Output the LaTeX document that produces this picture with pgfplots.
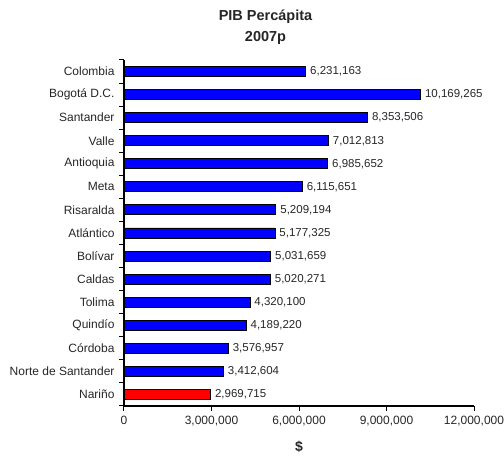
\documentclass[border=0pt]{standalone}
\usepackage{pgfplots}
\pgfplotsset{compat=1.18}
\usepackage{pgfplotstable}
\usepackage{fontspec}
\setmainfont{Liberation Sans}

\pgfplotstableread[col sep=comma]{
y,val,lab
14,6231163,{6,231,163}
13,10169265,{10,169,265}
12,8353506,{8,353,506}
11,7012813,{7,012,813}
10,6985652,{6,985,652}
9,6115651,{6,115,651}
8,5209194,{5,209,194}
7,5177325,{5,177,325}
6,5031659,{5,031,659}
5,5020271,{5,020,271}
4,4320100,{4,320,100}
3,4189220,{4,189,220}
2,3576957,{3,576,957}
1,3412604,{3,412,604}
}\bluedata

\pgfplotstableread[col sep=comma]{
y,val,lab
0,2969715,{2,969,715}
}\reddata

\begin{document}
\begin{tikzpicture}[x=1pt,y=1pt]
\useasboundingbox (0,0) rectangle (504,457);
\begin{axis}[
  at={(124pt,51pt)}, anchor=south west,
  scale only axis, width=350pt, height=346pt,
  xmin=0, xmax=12000000, ymin=-0.5, ymax=14.5,
  axis x line*=bottom, axis y line*=left,
  axis line style={black, line width=1.1pt, -},
  scaled x ticks=false,
  xtick={0,3000000,6000000,9000000,12000000},
  xticklabels={0,{3,000,000},{6,000,000},{9,000,000},{12,000,000}},
  ytick={-0.5,0.5,...,14.5},
  yticklabels={},
  extra y ticks={0,...,14},
  extra y tick labels={Nariño,Norte de Santander,Córdoba,Quindío,Tolima,Caldas,Bolívar,Atlántico,Risaralda,Meta,Antioquia,Valle,Santander,Bogotá D.C.,Colombia},
  extra y tick style={major tick length=0pt, yticklabel style={xshift=-6pt}},
  major tick length=5pt,
  tick align=outside,
  every tick/.style={black, line width=1pt},
  tick label style={font=\fontsize{12}{13}\selectfont, text=black!85},
  xticklabel style={yshift=-2pt},
  xbar, bar width=10pt, bar shift=0pt,
  point meta=explicit symbolic,
  nodes near coords,
  every node near coord/.append style={font=\fontsize{11.5}{12}\selectfont, text=black!85, anchor=west, inner sep=1pt, xshift=3pt},
  clip=false,
]
\addplot[draw=black, line width=0.9pt, fill={rgb,255:red,0;green,0;blue,255}] table[x=val, y=y, meta=lab] {\bluedata};
\addplot[draw=black, line width=0.9pt, fill={rgb,255:red,255;green,0;blue,0}] table[x=val, y=y, meta=lab] {\reddata};
\end{axis}
\node[font=\bfseries\fontsize{14.5}{15}\selectfont, text=black!85] at (265.5,440) {PIB Percápita};
\node[font=\bfseries\fontsize{14.5}{15}\selectfont, text=black!85] at (265.5,419) {2007p};
\node[font=\bfseries\fontsize{14}{15}\selectfont, text=black!85] at (299,10) {\$};
\end{tikzpicture}
\end{document}
